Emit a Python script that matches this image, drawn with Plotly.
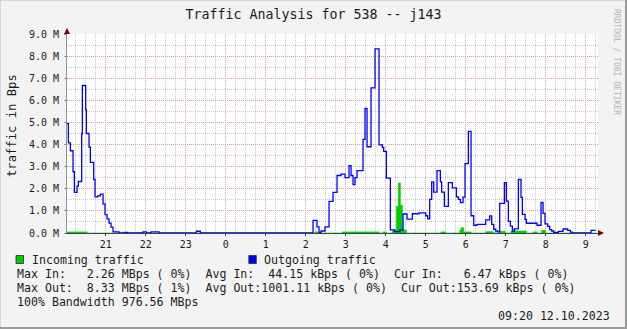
import plotly.graph_objects as go

# ---------------- data ----------------
out_t = ["20:02","20:04","20:07","20:11","20:13","20:17","20:19","20:24","20:25","20:30",
         "20:31","20:35","20:37","20:42","20:44","20:48","20:52","20:56","20:59","21:02",
         "21:05","21:08","21:11","21:20","21:28","21:33","21:56","22:01","22:08","22:20",
         "23:16","23:22","02:11","02:17","02:20","02:23","02:29","02:35","02:41","02:47",
         "02:53","02:59","03:05","03:08","03:11","03:14","03:17","03:26","03:29","03:32",
         "03:38","03:44","03:50","03:55","03:57","04:01","04:07","04:13","04:21","04:26",
         "04:32","04:40","04:50","05:00","05:03","05:06","05:09","05:12","05:17","05:22",
         "05:24","05:28","05:34","05:40","05:46","05:49","05:52","05:56","05:59","06:04",
         "06:08","06:12","06:17","06:30","06:36","06:39","06:42","06:45","06:48","06:51",
         "06:58","07:01","07:04","07:07","07:10","07:13","07:19","07:23","07:25","07:29",
         "07:31","07:47","07:53","07:56","07:59","08:03","08:06","08:09","08:12","08:19",
         "08:26","08:33","08:37","08:40","09:08","09:15"]
out_v = [4.95,4.08,3.72,2.77,1.84,2.12,2.33,4.50,6.67,5.58,
         4.50,3.88,3.19,2.42,1.63,1.68,1.76,1.32,0.83,0.64,
         0.45,0.27,0.05,0.0,0.03,0.0,0.05,0.0,0.05,0.0,
         0.08,0.0,0.57,0.28,0.03,0.09,0.28,1.43,1.84,2.60,
         2.66,2.50,3.05,2.60,2.19,2.50,2.82,4.23,5.63,3.90,
         6.56,8.33,3.99,3.87,3.69,2.48,0.14,0.06,0.14,0.86,
         0.63,0.87,0.91,0.78,0.64,1.52,2.31,1.85,2.82,2.31,
         1.85,1.20,2.28,2.04,1.63,1.52,1.37,1.62,3.14,4.60,
         0.78,0.35,0.39,0.59,0.77,0.39,0.17,0.09,0.05,1.34,
         2.28,1.44,0.53,0.31,0.09,0.19,2.42,1.61,0.84,0.62,
         0.44,0.35,1.38,0.89,0.41,0.30,0.15,0.09,0.03,0.07,
         0.18,0.12,0.04,0.0,0.12,0.12]

in_t = ["20:02","20:32","02:14","02:19","02:55","03:50","03:56","04:01","04:10","04:14",
        "04:16","04:19","04:22","04:25","04:31","05:23","05:30","05:51","05:53","05:57",
        "06:08","06:30","06:42","06:51","06:59","07:08","07:31","07:41","07:47","07:54",
        "08:00","09:15"]
in_v = [0.05,0.0,0.05,0.0,0.05,0.0,0.05,0.0,0.10,0.16,
        1.20,2.26,1.26,0.14,0.0,0.05,0.0,0.12,0.24,0.05,
        0.0,0.06,0.0,0.08,0.0,0.09,0.0,0.05,0.0,0.12,
        0.0,0.0]

x_tickvals = list(range(21, 34))
x_ticktext = ["21","22","23","0","1","2","3","4","5","6","7","8","9"]
y_tickvals = list(range(0, 10))
y_ticktext = ["%d.0 M" % v for v in y_tickvals]

legend_rows = [
    "Max In:   2.26 MBps ( 0%)  Avg In:  44.15 kBps ( 0%)  Cur In:   6.47 kBps ( 0%)",
    "Max Out:  8.33 MBps ( 1%)  Avg Out:1001.11 kBps ( 0%)  Cur Out:153.69 kBps ( 0%)",
    "100% Bandwidth 976.56 MBps",
]
stamp = "09:20 12.10.2023"


def to_h(s):
    h, m = s.split(":")
    v = int(h) + int(m) / 60.0
    return v + 24 if int(h) < 12 else v


out_x = [to_h(t) for t in out_t]
in_x = [to_h(t) for t in in_t]

# ---------------- geometry helpers ----------------
W, H = 627, 329
L, R, T, B = 67, 29, 34, 96
PW, PH = W - L - R, H - T - B


def PX(x):
    return (x - L) / PW


def PY(y):
    return (H - B - y) / PH


MONO = "DejaVu Sans Mono"
TXT = "#1c1c1c"

fig = go.Figure()
fig.add_trace(go.Scatter(x=in_x, y=in_v, mode="lines", name="Incoming traffic",
                         line=dict(shape="hv", width=0.6, color="#00cc00"),
                         fill="tozeroy", fillcolor="#00cc00", showlegend=False,
                         hoverinfo="skip"))
fig.add_trace(go.Scatter(x=out_x, y=out_v, mode="lines", name="Outgoing traffic",
                         line=dict(shape="hv", width=1.3, color="#0000ff"),
                         showlegend=False, hoverinfo="skip"))

grid_major = "#eb9c9c"
grid_minor = "#c9c9c9"
axis_col = "#2C4D43"

fig.update_layout(
    width=W, height=H,
    margin=dict(l=L, r=R, t=T, b=B, pad=0),
    paper_bgcolor="#f3f3f3", plot_bgcolor="#ffffff",
    title=dict(text="Traffic Analysis for 538 -- j143", x=0.5, xref="container",
               xanchor="center", y=1 - 14 / H, yref="container", yanchor="middle",
               font=dict(family=MONO, size=13.3, color=TXT)),
    xaxis=dict(range=[20 + (L - 105.7) / 40 + 1, 21 + (W - R - 105.7) / 40],
               tickmode="array", tickvals=x_tickvals, ticktext=x_ticktext,
               showgrid=True, gridcolor=grid_major, griddash="1px,1px", gridwidth=1,
               minor=dict(tickmode="linear", tick0=21, dtick=0.25, showgrid=True,
                          gridcolor=grid_minor, griddash="1px,1px", gridwidth=1),
               zeroline=False, showline=True, linecolor=axis_col, linewidth=1,
               ticks="outside", ticklen=2, tickcolor=axis_col,
               tickfont=dict(family=MONO, size=10, color=TXT)),
    yaxis=dict(range=[0, 9], tickmode="array", tickvals=y_tickvals, ticktext=y_ticktext,
               showgrid=True, gridcolor=grid_major, griddash="1px,1px", gridwidth=1,
               minor=dict(tickmode="linear", tick0=0, dtick=0.5, showgrid=True,
                          gridcolor=grid_minor, griddash="1px,1px", gridwidth=1),
               zeroline=False, showline=True, linecolor="#8a9490", linewidth=1,
               ticks="outside", ticklen=2, tickcolor="#8a9490", ticklabelstandoff=3,
               tickfont=dict(family=MONO, size=10, color=TXT)),
)

shapes = []
# axis extension and arrows
shapes.append(dict(type="line", xref="paper", yref="paper", x0=PX(67), x1=PX(67),
                   y0=PY(34), y1=PY(29), line=dict(color="#8a9490", width=1)))
shapes.append(dict(type="path", xref="paper", yref="paper",
                   path="M %f %f L %f %f L %f %f Z" % (PX(64), PY(34), PX(70), PY(34), PX(67), PY(28)),
                   fillcolor="#7f0000", line=dict(width=0)))
shapes.append(dict(type="line", xref="paper", yref="paper", x0=PX(598), x1=PX(600),
                   y0=PY(233), y1=PY(233), line=dict(color=axis_col, width=1)))
shapes.append(dict(type="path", xref="paper", yref="paper",
                   path="M %f %f L %f %f L %f %f Z" % (PX(598), PY(230), PX(598), PY(236), PX(604), PY(233)),
                   fillcolor="#7f0000", line=dict(width=0)))
# legend boxes
shapes.append(dict(type="rect", xref="paper", yref="paper", x0=PX(16), x1=PX(23.5),
                   y0=PY(263.5), y1=PY(255.5), fillcolor="#00cc00",
                   line=dict(color="#2a2a2a", width=0.8)))
shapes.append(dict(type="rect", xref="paper", yref="paper", x0=PX(248.8), x1=PX(256.3),
                   y0=PY(263.5), y1=PY(255.5), fillcolor="#0000ff",
                   line=dict(color="#2a2a2a", width=0.8)))
# image frame (3D shade)
shapes.append(dict(type="line", xref="paper", yref="paper", x0=PX(0), x1=PX(W),
                   y0=PY(0.5), y1=PY(0.5), line=dict(color="#d6d6d6", width=1)))
shapes.append(dict(type="line", xref="paper", yref="paper", x0=PX(0.5), x1=PX(0.5),
                   y0=PY(0), y1=PY(H), line=dict(color="#d6d6d6", width=1)))
shapes.append(dict(type="line", xref="paper", yref="paper", x0=PX(0), x1=PX(W),
                   y0=PY(H - 1), y1=PY(H - 1), line=dict(color="#9c9c9c", width=2)))
shapes.append(dict(type="line", xref="paper", yref="paper", x0=PX(W - 1), x1=PX(W - 1),
                   y0=PY(0), y1=PY(H), line=dict(color="#9c9c9c", width=2)))
fig.update_layout(shapes=shapes)


def nb(s):
    return s.replace(" ", "\u00a0")


ann = []
ann.append(dict(text=nb("traffic in Bps"), x=PX(12), y=PY(126), xref="paper", yref="paper",
                showarrow=False, textangle=-90, xanchor="center", yanchor="middle",
                font=dict(family=MONO, size=12.2, color=TXT)))
ann.append(dict(text=nb("RRDTOOL / TOBI OETIKER"), x=PX(617), y=PY(62), xref="paper", yref="paper",
                showarrow=False, textangle=90, xanchor="center", yanchor="middle",
                font=dict(family=MONO, size=8, color="#b4b4b4")))
ann.append(dict(text=nb("Incoming traffic"), x=PX(30.5), y=PY(259.5), xref="paper", yref="paper",
                showarrow=False, xanchor="left", yanchor="middle",
                font=dict(family=MONO, size=11.6, color=TXT)))
ann.append(dict(text=nb("Outgoing traffic"), x=PX(262.5), y=PY(259.5), xref="paper", yref="paper",
                showarrow=False, xanchor="left", yanchor="middle",
                font=dict(family=MONO, size=11.6, color=TXT)))
for i, row in enumerate(legend_rows):
    ann.append(dict(text=nb(row), x=PX(15.5), y=PY(273.5 + 14.2 * i), xref="paper", yref="paper",
                    showarrow=False, xanchor="left", yanchor="middle",
                    font=dict(family=MONO, size=11.6, color=TXT)))
ann.append(dict(text=nb(stamp), x=PX(610.5), y=PY(315.5), xref="paper", yref="paper",
                showarrow=False, xanchor="right", yanchor="middle",
                font=dict(family=MONO, size=11.6, color=TXT)))
for a in ann:
    a["borderpad"] = 0
fig.update_layout(annotations=ann)

fig.write_html("out.html")
